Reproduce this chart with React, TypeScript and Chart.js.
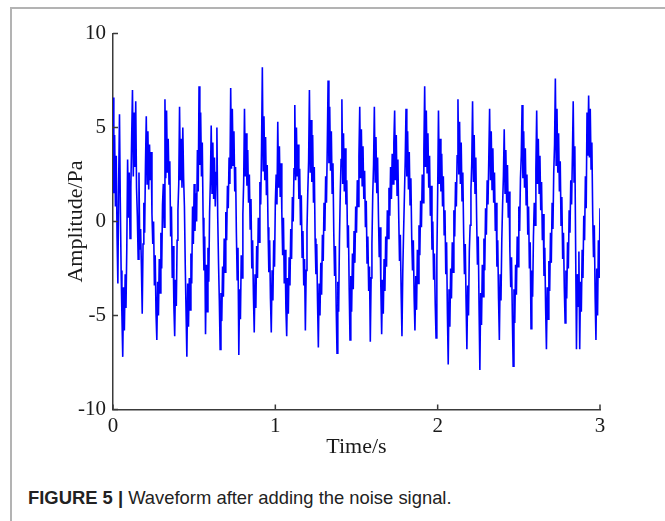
import React, { useEffect, useRef } from "react";
import { Chart, registerables } from "chart.js";

Chart.register(...registerables);

const timeRange = [0, 3];
const xTicks = [0, 1, 2, 3];
const yTicks = [-10, -5, 0, 5, 10];
const xTitle = "Time/s";
const yTitle = "Amplitude/Pa";

// Amplitude samples (uniformly spaced over 0–3 s)
const amplitude = [
  6.6, 1.5, 4.6, 0.8, 3.5, -0.8, -3.3, 2.2, 5.7, 1.0, -2.6, -5.0, -7.2,
  -3.5, -5.8, -2.8, -4.6, -1.4, 3.3, 0.2, 2.6, -0.9, 1.8, 4.5, 7.0,
  2.4, 5.8, 2.9, 6.4, 1.8, 0.3, -2.0, 2.6, -1.5, -0.4, -2.4, -4.9,
  -1.2, 1.0, -0.6, 3.0, 5.6,
  2.0, 4.8, 1.7, 4.1, 2.2, 3.7, 0.4, -1.2, 0.0, -3.4, -1.8, -4.9, -6.3,
  -3.2, -5.0, -2.0, -3.8, -0.6, -2.5, 0.9, 2.0, -0.3, 6.5,
  2.3, 5.9, 2.6, 4.4, 2.0, 3.2, -0.8, 0.8, -3.0, -1.3, -4.5, -6.1,
  -3.1, -4.5, -1.0, 0.6, 2.0, 6.1,
  2.2, 4.4, 1.8, 5.0, 2.3, 0.8, -2.3, -4.8, -7.2,
  -3.3, -5.6, -3.0, -4.7, -1.7, -3.3, 0.8, -1.2, 2.0, -0.5, 1.5, 0.0, 3.8, 1.6, 7.2,
  3.0, 5.8, 2.4, 4.2, 0.2, -2.6, -0.8, -6.0,
  -2.3, -4.8, -1.4, -3.2, 0.5, 2.2, 5.1,
  1.5, 4.2, 1.2, 3.4, 0.8, 2.6, 5.0, 0.3, -2.2, -4.2, -6.8,
  -3.8, -5.3, -2.4, -4.0, -0.9, -2.7, 0.5, -1.0, 1.9, 0.7, 3.4, 2.0, 7.1,
  2.8, 6.0, 3.0, 4.8, 1.6, 2.9, -0.6, -3.1, -1.4, -7.1,
  -3.6, -5.2, -1.8, -3.0, 0.4, 2.1, 6.0,
  2.4, 4.7, 1.9, 3.8, 1.0, 2.5, -0.4, 1.2, -2.5, -1.0, -3.9, -5.9,
  -2.8, -4.6, -1.3, -3.0, 0.2, -1.1, 2.1, 0.9, 3.9, 8.2,
  2.7, 5.6, 2.2, 4.5, 1.4, 3.0, -0.3, -2.7, -1.0, -4.1, -5.9,
  -2.6, -4.2, -1.0, -2.4, 1.0, 2.5, 0.9, 5.3,
  1.8, 4.0, 1.3, 3.1, 0.5, -1.8, 0.2, -3.3, -1.5, -4.6, -6.1,
  -3.0, -4.9, -1.9, -3.4, -0.4, -2.0, 1.3, 0.0, 2.8, 6.2,
  2.2, 5.0, 2.4, 4.1, 1.2, 2.8, -0.2, 1.4, -1.9, -0.5, -3.4, -2.0, -5.8,
  -2.6, -0.4, 1.6, 3.2, 7.0,
  2.6, 5.4, 2.1, 4.6, 1.0, 2.9, -0.9, -2.8, -1.2, -4.3, -6.7,
  -3.3, -5.0, -2.2, -3.9, -0.7, -2.1, 1.0, -0.5, 2.4, 1.0, 4.0, 7.5,
  3.1, 6.1, 2.7, 4.8, 1.5, 3.1, -0.6, -2.9, -1.3, -4.6, -7.0,
  -3.2, -4.8, -1.0, 1.5, 3.3, 6.5,
  2.0, 4.7, 1.6, 3.9, 0.9, 2.2, -1.4, -0.2, -3.6, -6.3,
  -2.9, -4.8, -1.7, -3.6, -0.5, -2.2, 0.8, -0.6, 2.2, 0.8, 3.5, 6.1,
  2.3, 4.9, 1.9, 4.0, 1.2, 2.7, -0.3, 1.1, -2.2, -0.8, -3.7, -2.4, -6.4,
  -3.0, -1.2, 1.4, 3.0, 6.1,
  2.1, 4.5, 1.5, 3.4, 0.4, -1.9, -0.3, -3.5, -6.0,
  -3.1, -4.9, -2.0, -3.7, -0.8, -2.4, 0.6, -0.9, 1.8, 0.3, 2.9, 1.2, 3.6, 2.0, 4.2, 5.9,
  2.2, 4.6, 1.4, 3.3, 0.3, -2.1, -0.7, -3.8, -6.1,
  -2.7, -0.6, 1.3, 3.2, 6.0,
  2.4, 4.8, 1.7, 3.7, 0.9, 2.3, -0.8, -2.6, -1.0, -4.0, -5.8,
  -2.9, -4.7, -1.5, -3.3, -0.2, -1.8, 1.1, -0.3, 2.5, 1.0, 3.8, 7.2,
  2.9, 5.9, 2.6, 4.7, 1.8, 3.5, 0.3, 1.9, -1.5, 0.0, -3.1, -1.7, -4.4, -6.2,
  -2.0, 1.5, 5.9,
  2.0, 4.4, 1.6, 3.6, 0.8, 2.4, -0.7, 0.6, -2.8, -1.1, -4.9, -7.6,
  -3.6, -5.6, -2.5, -4.1, -1.1, -2.7, 0.6, -0.8, 2.1, 0.8, 3.5, 6.5,
  2.5, 5.3, 2.0, 4.2, 1.1, 2.6, -0.6, -2.8, -1.2, -4.3, -6.8,
  -3.4, -5.0, -1.6, -0.2, 1.7, 3.1, 6.4,
  2.1, 4.6, 1.5, 3.4, 0.2, -2.3, -0.8, -4.6, -7.9,
  -3.8, -5.5, -2.3, -4.0, -0.9, -2.6, 0.7, -0.7, 2.2, 0.9, 3.4, 6.0,
  2.2, 4.8, 1.7, 3.9, 1.0, 2.6, -0.5, 1.0, -2.4, -1.0, -4.1, -6.3,
  -2.8, -4.2, -1.0, 0.9, 2.4, 4.9,
  1.5, 3.8, 1.0, 3.0, 0.2, 1.6, -1.6, -3.5, -1.9, -5.0, -7.7,
  -3.6, -5.4, -2.3, -3.9, -0.8, -2.4, 0.8, -0.5, 2.3, 3.5, 6.2,
  2.3, 4.8, 1.8, 3.9, 0.9, 2.5, -0.7, 0.8, -2.5, -1.1, -5.7,
  -2.6, -4.0, -0.8, 1.0, -0.2, 2.8, 5.9,
  2.0, 4.4, 1.5, 3.5, 0.6, 2.1, -1.0, 0.4, -2.9, -1.4, -4.6, -6.8,
  -3.5, -5.2, -2.1, -3.7, -0.6, -2.2, 1.0, -0.4, 2.6, 4.1, 7.6,
  3.0, 6.0, 2.6, 4.7, 1.6, 3.2, -0.2, 1.3, -2.0, -0.6, -3.5, -5.4,
  -2.6, -4.1, -1.1, -2.5, 0.6, -0.6, 2.2, 0.9, 3.5, 6.4,
  2.1, 4.0, -1.5, -6.8, -2.8, -4.5, -1.6, -6.8,
  -3.2, -4.8, -1.5, -3.0, 0.3, -1.0, 2.4, 0.7, 5.8, 3.5, 6.7,
  3.4, 6.0, 2.8, 4.2, 0.4, -1.9, -0.2, -4.0, -6.3,
  -2.5, -5.0, -1.0, -3.0, 0.7,
];

const serif = '"Liberation Serif", "Times New Roman", "DejaVu Serif", serif';
const axisColor = "#3a3a3a";
const textColor = "#1a1a1a";

const inwardTicks = {
  id: "inwardTicks",
  afterDraw(chart: any) {
    const { ctx, chartArea, scales } = chart;
    const xs = scales.x;
    const ys = scales.y;
    ctx.save();
    ctx.strokeStyle = axisColor;
    ctx.lineWidth = 1.5;
    ctx.beginPath();
    for (const v of xTicks) {
      const px = xs.getPixelForValue(v);
      ctx.moveTo(px, chartArea.bottom);
      ctx.lineTo(px, chartArea.bottom - 5);
    }
    for (const v of yTicks) {
      const py = ys.getPixelForValue(v);
      ctx.moveTo(chartArea.left, py);
      ctx.lineTo(chartArea.left + 5, py);
    }
    ctx.stroke();
    ctx.restore();
  },
};

export default function App() {
  const canvasRef = useRef<HTMLCanvasElement | null>(null);

  useEffect(() => {
    const canvas = canvasRef.current;
    if (!canvas) return;
    const span = timeRange[1] - timeRange[0];
    const points = amplitude.map((v, i) => ({
      x: timeRange[0] + (i * span) / (amplitude.length - 1),
      y: v,
    }));
    const chart = new Chart(canvas, {
      type: "line",
      data: {
        datasets: [
          {
            data: points,
            borderColor: "#0000ff",
            borderWidth: 1.6,
            pointRadius: 0,
            tension: 0,
            fill: false,
          },
        ],
      },
      options: {
        animation: false,
        responsive: false,
        devicePixelRatio: 1,
        events: [],
        layout: { padding: { left: 0, right: 65, top: 33.5, bottom: 9.5 } },
        plugins: {
          legend: { display: false },
          tooltip: { enabled: false },
        },
        scales: {
          x: {
            type: "linear",
            min: timeRange[0],
            max: timeRange[1],
            afterBuildTicks: (s: any) => {
              s.ticks = xTicks.map((v) => ({ value: v }));
            },
            afterFit: (s: any) => {
              s.height = 51;
            },
            grid: { display: false, drawTicks: false },
            border: { display: true, color: axisColor, width: 1.5 },
            ticks: {
              font: { family: serif, size: 21 },
              color: textColor,
              padding: 4,
              maxRotation: 0,
              autoSkip: false,
            },
            title: {
              display: true,
              text: xTitle,
              font: { family: serif, size: 22 },
              color: textColor,
              padding: { top: 0, bottom: 0 },
            },
          },
          y: {
            type: "linear",
            min: -10,
            max: 10,
            afterBuildTicks: (s: any) => {
              s.ticks = yTicks.map((v) => ({ value: v }));
            },
            afterFit: (s: any) => {
              s.width = 113;
            },
            grid: { display: false, drawTicks: false },
            border: { display: true, color: axisColor, width: 1.5 },
            ticks: {
              font: { family: serif, size: 21 },
              color: textColor,
              padding: 7,
              autoSkip: false,
            },
            title: {
              display: true,
              text: yTitle,
              font: { family: serif, size: 22 },
              color: textColor,
              padding: { top: 63, bottom: 0 },
            },
          },
        },
      },
      plugins: [inwardTicks],
    });
    return () => chart.destroy();
  }, []);

  return (
    <div
      style={{
        position: "fixed",
        left: 0,
        top: 0,
        width: 665,
        height: 521,
        background: "#ffffff",
        overflow: "hidden",
      }}
    >
      <div
        style={{
          position: "absolute",
          left: 10,
          top: 7,
          width: 700,
          height: 600,
          borderLeft: "2px solid #b3b3b3",
          borderTop: "2px solid #b3b3b3",
        }}
      />
      <canvas
        ref={canvasRef}
        width={665}
        height={470}
        style={{ position: "absolute", left: 0, top: 0, width: 665, height: 470 }}
      />
      <div
        style={{
          position: "absolute",
          left: 28,
          top: 487,
          fontFamily: '"Liberation Sans", Arial, sans-serif',
          fontSize: 18.4,
          lineHeight: "22px",
          color: "#222",
          whiteSpace: "nowrap",
        }}
      >
        <span style={{ fontWeight: "bold" }}>FIGURE 5 |</span> Waveform after adding the noise signal.
      </div>
    </div>
  );
}
